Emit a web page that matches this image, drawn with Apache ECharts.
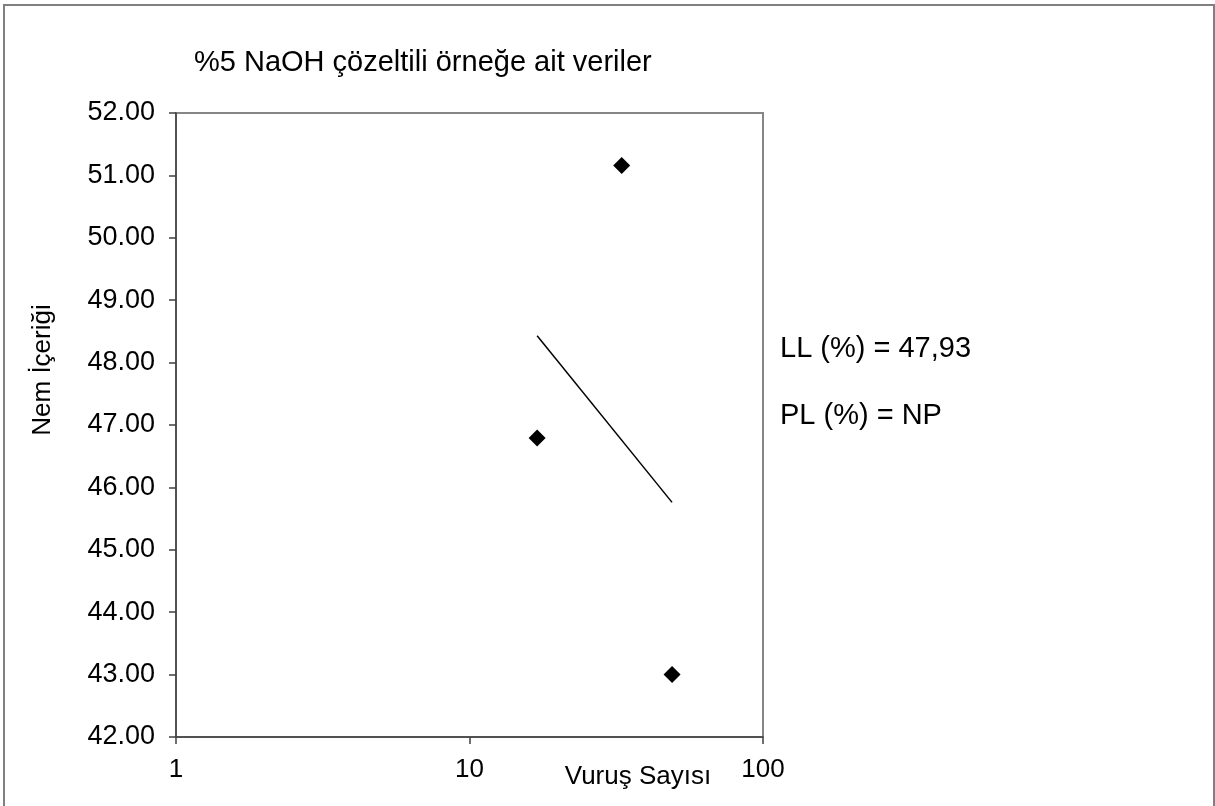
<!DOCTYPE html>
<html>
<head>
<meta charset="utf-8">
<script src="https://cdn.jsdelivr.net/npm/echarts@6/dist/echarts.min.js"></script>
<style>
html,body{margin:0;padding:0;background:#fff;}
#chart{width:1215px;height:806px;}
</style>
</head>
<body>
<div id="chart"></div>
<script>
const titleText = '%5 NaOH çözeltili örneğe ait veriler';
const xName = 'Vuruş Sayısı';
const yName = 'Nem İçeriği';
const notes = ['LL (%) = 47,93', 'PL (%) = NP'];
const blows = [17, 33, 49];
const moisture = [46.79, 51.16, 43.00];
const trendBlows = [17, 49];
const trendMoisture = [48.43, 45.76];
const yMin = 42, yMax = 52, yStep = 1;
const xMin = 1, xMax = 100;

const font = 'Liberation Sans, Arial, sans-serif';
const chart = echarts.init(document.getElementById('chart'), null, {renderer: 'canvas'});
chart.setOption({
  animation: false,
  backgroundColor: '#fff',
  grid: {left: 176, top: 113, right: 452, bottom: 69, show: true, borderColor: '#868686', borderWidth: 2, containLabel: false},
  xAxis: {
    type: 'log', logBase: 10, min: xMin, max: xMax,
    axisLine: {show: true, onZero: false, lineStyle: {color: '#404040', width: 1.5}},
    axisTick: {show: true, inside: false, length: 7, lineStyle: {color: '#404040', width: 1.5}},
    axisLabel: {color: '#000', fontFamily: font, fontSize: 26, margin: 20},
    splitLine: {show: false},
    minorTick: {show: false}
  },
  yAxis: {
    type: 'value', min: yMin, max: yMax, interval: yStep,
    axisLine: {show: true, onZero: false, lineStyle: {color: '#404040', width: 1.5}},
    axisTick: {show: true, inside: false, length: 7, lineStyle: {color: '#404040', width: 1.5}},
    axisLabel: {color: '#000', fontFamily: font, fontSize: 27, margin: 21, formatter: v => v.toFixed(2)},
    splitLine: {show: false}
  },
  series: [
    {
      type: 'scatter',
      data: blows.map((b, i) => [b, moisture[i]]),
      symbol: 'diamond', symbolSize: 17,
      itemStyle: {color: '#000', opacity: 1},
      z: 3
    },
    {
      type: 'line',
      data: trendBlows.map((b, i) => [b, trendMoisture[i]]),
      showSymbol: false, symbol: 'none',
      lineStyle: {color: '#000', width: 1.5},
      z: 2
    }
  ],
  graphic: [
    {type: 'rect', shape: {x: 4, y: 5, width: 1210, height: 820}, style: {fill: 'none', stroke: '#808080', lineWidth: 2}, silent: true},
    {type: 'text', x: 194, y: 63, style: {text: titleText, font: '29px ' + font, fill: '#000', align: 'left', verticalAlign: 'middle'}},
    {type: 'text', x: 43, y: 370, rotation: Math.PI / 2, style: {text: yName, font: '26px ' + font, fill: '#000', align: 'center', verticalAlign: 'middle'}},
    {type: 'text', x: 638, y: 777, style: {text: xName, font: '26px ' + font, fill: '#000', align: 'center', verticalAlign: 'middle'}},
    {type: 'text', x: 780, y: 349, style: {text: notes[0], font: '29px ' + font, fill: '#000', align: 'left', verticalAlign: 'middle'}},
    {type: 'text', x: 780, y: 416, style: {text: notes[1], font: '29px ' + font, fill: '#000', align: 'left', verticalAlign: 'middle'}}
  ]
});
</script>
</body>
</html>
